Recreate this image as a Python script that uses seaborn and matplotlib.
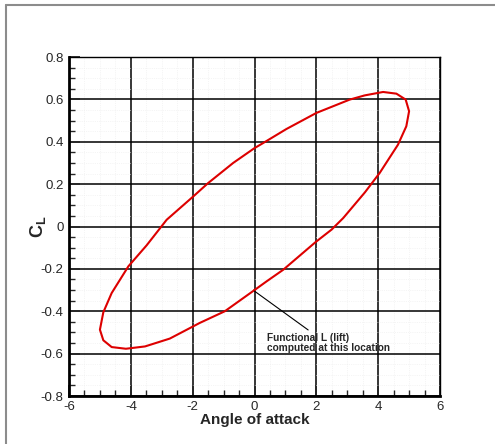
import numpy as np
import pandas as pd
import matplotlib
matplotlib.use("Agg")
import matplotlib.pyplot as plt
import seaborn as sns
from matplotlib.lines import Line2D
from matplotlib.ticker import MultipleLocator

# hysteresis loop of lift coefficient vs angle of attack
alpha = [0.0, -0.96, -1.77, -2.74, -3.54, -4.16, -4.62, -4.89, -5.0, -4.89,
         -4.62, -4.08, -3.49, -2.84, -1.98, -1.50, -0.69, 0.0, 0.28, 1.03,
         2.0, 3.08, 3.57, 4.16, 4.59, 4.89, 5.0, 4.91, 4.64, 4.05,
         3.57, 2.87, 2.49, 1.98, 0.93, 0.39, 0.0]
cl = [-0.30, -0.40, -0.455, -0.529, -0.566, -0.577, -0.569, -0.537, -0.487, -0.405,
      -0.314, -0.188, -0.089, 0.032, 0.142, 0.205, 0.30, 0.37, 0.394, 0.46,
      0.536, 0.599, 0.619, 0.635, 0.627, 0.599, 0.544, 0.473, 0.386, 0.253,
      0.161, 0.040, -0.015, -0.073, -0.204, -0.259, -0.30]

annot_point = (0.0, -0.305)
annot_text_pos = (0.41, -0.55)
annot_text = "Functional L (lift)\ncomputed at this location"

df = pd.DataFrame({"alpha": alpha, "cl": cl})

sns.set_style("white")
plt.rcParams["font.family"] = ["Liberation Sans", "DejaVu Sans"]
plt.rcParams["axes.unicode_minus"] = False
plt.rcParams["mathtext.fontset"] = "custom"
plt.rcParams["mathtext.bf"] = "Liberation Sans:bold"
plt.rcParams["mathtext.rm"] = "Liberation Sans"

fig = plt.figure(figsize=(4.95, 4.44), dpi=100)
ax = fig.add_axes([0.1394, 0.1081, 0.7495, 0.7635])

# outer gray frame (only top and left edges are inside the picture)
fx, fy = 5.5 / 495, 1 - 5.5 / 444
fig.add_artist(Line2D([fx, 1.0], [fy, fy], transform=fig.transFigure,
                      color="#8c8c8c", linewidth=1.5))
fig.add_artist(Line2D([fx, fx], [0.0, fy], transform=fig.transFigure,
                      color="#8c8c8c", linewidth=1.5))

sns.lineplot(data=df, x="alpha", y="cl", sort=False, estimator=None,
             color="#dd0000", linewidth=1.5, ax=ax, zorder=3)

ax.set_xlim(-6, 6)
ax.set_ylim(-0.8, 0.8)
ax.xaxis.set_minor_locator(MultipleLocator(0.5))
ax.yaxis.set_minor_locator(MultipleLocator(0.05))
ax.set_xticks(np.arange(-6, 7, 2))
ax.set_xticklabels(["-6", "-4", "-2", "0", "2", "4", "6"])
ax.set_yticks(np.round(np.arange(-0.8, 0.81, 0.2), 1))
ax.set_yticklabels(["-0.8", "-0.6", "-0.4", "-0.2", "0", "0.2", "0.4", "0.6", "0.8"])

ax.grid(which="major", color="black", linewidth=1.1, zorder=1)
ax.grid(which="minor", color="#ececec", linewidth=0.5, linestyle=":", zorder=0)
ax.tick_params(which="major", direction="in", length=8, width=1.3, labelsize=9.5,
               left=True, bottom=True, top=False, right=False)
ax.tick_params(axis="x", which="major", pad=3.5)
ax.tick_params(axis="y", which="major", pad=4)
ax.tick_params(which="minor", direction="in", length=4, width=1,
               left=True, bottom=True, top=False, right=False)
for s in ["left", "bottom"]:
    ax.spines[s].set_linewidth(2)
for s in ["top", "right"]:
    ax.spines[s].set_linewidth(1)
for s in ax.spines.values():
    s.set_color("black")

ax.set_xlabel("Angle of attack", fontsize=11, fontweight="bold", labelpad=0)
ax.set_ylabel(r"$\mathbf{C_L}$", fontsize=13, labelpad=-5)

ax.annotate(annot_text, xy=annot_point, xytext=annot_text_pos,
            fontsize=7.3, fontweight="bold", ha="left", va="center",
            linespacing=0.95,
            arrowprops=dict(arrowstyle="-", color="black", linewidth=0.8,
                            shrinkA=0, shrinkB=0, relpos=(0.37, 1.0)))

fig.savefig("out.png", dpi=100)
